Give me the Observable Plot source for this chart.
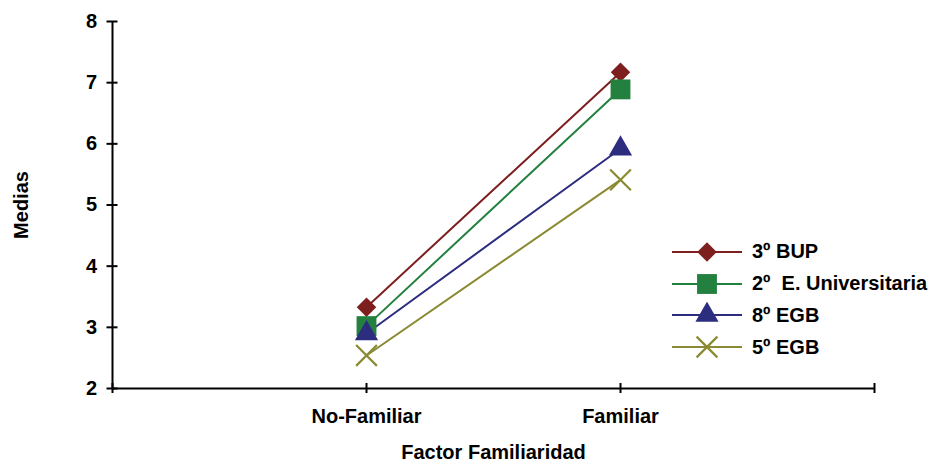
<!DOCTYPE html>
<html>
<head>
<meta charset="utf-8">
<script src="https://cdn.jsdelivr.net/npm/d3@7"></script>
<script src="https://cdn.jsdelivr.net/npm/@observablehq/plot@0.6"></script>
<style>
  html, body { margin: 0; padding: 0; background: #fff; }
  #wrap { position: relative; width: 934px; height: 464px; font-family: "Liberation Sans", Arial, sans-serif; font-weight: bold; }
  #legend { position: absolute; left: 670px; top: 236px; }
  .row { display: flex; align-items: center; height: 31.8px; font-size: 20px; color: #000; white-space: pre; }
  .row svg { margin-right: 8px; }
</style>
</head>
<body>
<div id="wrap"></div>
<script>
// ---- data ----
const categories = ["No-Familiar", "Familiar"];
const series = ["3º BUP", "2º  E. Universitaria", "8º EGB", "5º EGB"];
const bup = [3.33, 7.17];
const univ = [3.02, 6.89];
const egb8 = [2.90, 5.92];
const egb5 = [2.54, 5.41];
const yTicks = [2, 3, 4, 5, 6, 7, 8];
const xTicks = [0, 1, 2, 3];

// ---- styles ----
const colors = ["#7e1f1f", "#23803f", "#2d2d80", "#8a8a32"];
const symbols = ["diamond2", "square", "triangle", "times"];
const radii = [8.8, 11.2, 8.6, 9.5];
const d3Symbols = [d3.symbolDiamond2, d3.symbolSquare, d3.symbolTriangle, d3.symbolTimes];

const valuesBySeries = [bup, univ, egb8, egb5];
const data = [];
series.forEach((s, i) => {
  valuesBySeries[i].forEach((v, j) => data.push({series: s, pos: j + 1, value: v}));
});

const font = "Liberation Sans, Arial, sans-serif";

const marks = [
  Plot.line(data, {x: "pos", y: "value", z: "series", stroke: "series", strokeWidth: 2}),
];
series.forEach((s, i) => {
  const sub = data.filter(d => d.series === s);
  if (symbols[i] === "times") {
    marks.push(Plot.dot(sub, {x: "pos", y: "value", symbol: symbols[i], r: radii[i], stroke: colors[i], strokeWidth: 2.2}));
  } else {
    marks.push(Plot.dot(sub, {x: "pos", y: "value", symbol: symbols[i], r: radii[i], fill: colors[i], stroke: "none"}));
  }
});
marks.push(
  Plot.ruleX([0], {stroke: "#000", strokeWidth: 2}),
  Plot.ruleY([2], {stroke: "#000", strokeWidth: 2}),
  Plot.axisY({ticks: yTicks, tickSize: 11, dx: 5.5, tickPadding: 10, strokeWidth: 2, fontSize: 20, fontWeight: "bold",
    label: "Medias", labelArrow: "none", labelAnchor: "center", labelOffset: 99, tickFormat: d => String(d)}),
  Plot.axisX({ticks: xTicks, tickSize: 10, dy: -5, tickPadding: 15, strokeWidth: 2, fontSize: 20, fontWeight: "bold",
    label: "Factor Familiaridad", labelArrow: "none", labelAnchor: "center", labelOffset: 70,
    tickFormat: d => (d >= 1 && d <= categories.length ? categories[d - 1] : "")})
);

const chart = Plot.plot({
  width: 934, height: 464,
  marginLeft: 112, marginRight: 60, marginTop: 21, marginBottom: 76,
  x: {type: "linear", domain: [0, 3]},
  y: {domain: [2, 8]},
  color: {domain: series, range: colors},
  style: {fontFamily: font, fontWeight: "bold", fontSize: "20px", color: "#000", background: "#fff", overflow: "visible"},
  marks
});
const wrap = document.getElementById("wrap");
wrap.appendChild(chart);

// ---- legend ----
const legend = document.createElement("div");
legend.id = "legend";
series.forEach((s, i) => {
  const row = document.createElement("div");
  row.className = "row";
  const ns = "http://www.w3.org/2000/svg";
  const svg = document.createElementNS(ns, "svg");
  svg.setAttribute("width", 74); svg.setAttribute("height", 26);
  const line = document.createElementNS(ns, "line");
  line.setAttribute("x1", 2); line.setAttribute("x2", 72);
  line.setAttribute("y1", 13); line.setAttribute("y2", 13);
  line.setAttribute("stroke", colors[i]); line.setAttribute("stroke-width", 2);
  svg.appendChild(line);
  const p = document.createElementNS(ns, "path");
  p.setAttribute("d", d3.symbol(d3Symbols[i], Math.PI * radii[i] * radii[i])());
  p.setAttribute("transform", "translate(37,13)");
  if (symbols[i] === "times") { p.setAttribute("fill", "none"); p.setAttribute("stroke", colors[i]); p.setAttribute("stroke-width", 2.2); }
  else p.setAttribute("fill", colors[i]);
  svg.appendChild(p);
  row.appendChild(svg);
  const t = document.createElement("span");
  t.textContent = s;
  row.appendChild(t);
  legend.appendChild(row);
});
wrap.appendChild(legend);
</script>
</body>
</html>
